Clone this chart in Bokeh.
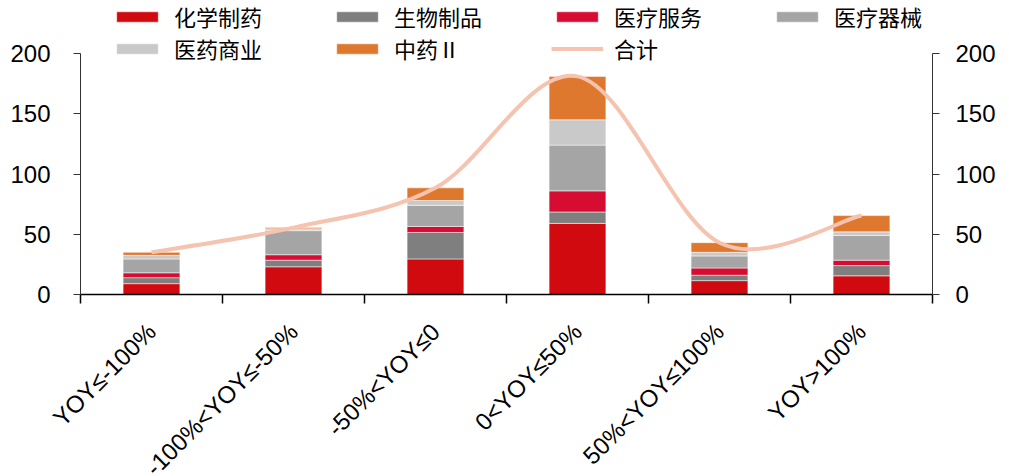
import math
from bokeh.plotting import figure
from bokeh.models import (ColumnDataSource, Range1d, LinearAxis, FixedTicker,
                          Legend, LegendItem, LabelSet)
from bokeh.core.properties import value
from bokeh.embed import file_html
from bokeh.resources import INLINE

categories = ["YOY≤-100%", "-100%<YOY≤-50%", "-50%<YOY≤0", "0<YOY≤50%", "50%<YOY≤100%", "YOY>100%"]
chem = [9, 23, 29.5, 59, 11.5, 15.5]        # 化学制药
bio = [5, 5.5, 22, 9.5, 4.5, 8.5]           # 生物制品
service = [4, 4.5, 5, 17.5, 6, 4.5]         # 医疗服务
device = [11.5, 20, 17.5, 38, 10, 20.5]     # 医疗器械
commerce = [3, 1.5, 4, 21, 3, 3]            # 医药商业
tcm = [2.5, 1, 10.5, 36, 8, 13.5]           # 中药Ⅱ
series_names = ["化学制药", "生物制品", "医疗服务", "医疗器械", "医药商业", "中药Ⅱ"]
total_name = "合计"
y_ticks = [0, 50, 100, 150, 200]

series = [chem, bio, service, device, commerce, tcm]
colors = ["#D10A10", "#7F7F7F", "#D60C32", "#A5A5A5", "#C9C9C9", "#DF782F"]
keys = ["s%d" % i for i in range(len(series))]

n = len(categories)
xs = [i + 0.5 for i in range(n)]
data = {"x": xs}
for k, s in zip(keys, series):
    data[k] = s
src = ColumnDataSource(data)

# layout: the frame covers the whole canvas; axes are pinned inside it
FW, FH = 1009, 476
PX_PER_CAT = 142.0
PX_PER_UNIT = 241 / 200.0
x_left = -80 / PX_PER_CAT
x_right = x_left + FW / PX_PER_CAT
y_top = y_ticks[-1] + 53 / PX_PER_UNIT
y_bot = y_top - FH / PX_PER_UNIT

p = figure(frame_width=FW, frame_height=FH, output_backend="svg",
           toolbar_location=None,
           x_range=Range1d(x_left, x_right), y_range=Range1d(y_bot, y_top),
           min_border_left=0, min_border_right=0, min_border_top=0,
           min_border_bottom=0)
p.outline_line_color = None
p.xgrid.visible = False
p.ygrid.visible = False
p.background_fill_color = "white"
p.border_fill_color = "white"

rs = p.vbar_stack(keys, x="x", width=0.4, color=colors, source=src,
                  line_color="white", line_alpha=0.5, line_width=1)

# smoothed total line (Excel-like Catmull-Rom bezier through totals)
totals = [sum(v) for v in zip(*series)]
pts = list(zip(xs, totals))
bz = dict(x0=[], y0=[], x1=[], y1=[], cx0=[], cy0=[], cx1=[], cy1=[])
for i in range(n - 1):
    p0 = pts[max(i - 1, 0)]
    p1 = pts[i]
    p2 = pts[i + 1]
    p3 = pts[min(i + 2, n - 1)]
    bz["x0"].append(p1[0]); bz["y0"].append(p1[1])
    bz["x1"].append(p2[0]); bz["y1"].append(p2[1])
    bz["cx0"].append(p1[0] + (p2[0] - p0[0]) / 6)
    bz["cy0"].append(p1[1] + (p2[1] - p0[1]) / 6)
    bz["cx1"].append(p2[0] - (p3[0] - p1[0]) / 6)
    bz["cy1"].append(p2[1] - (p3[1] - p1[1]) / 6)
bsrc = ColumnDataSource(bz)
line_r = p.bezier(x0="x0", y0="y0", x1="x1", y1="y1", cx0="cx0", cy0="cy0",
                  cx1="cx1", cy1="cy1", source=bsrc, line_color="#F5C3AF",
                  line_width=4)

# x axis at value 0: ticks at category boundaries, no labels
xax = p.xaxis[0]
xax.fixed_location = 0
xax.bounds = (0, n)
xax.ticker = FixedTicker(ticks=list(range(n + 1)))
xax.major_label_overrides = {i: "" for i in range(n + 1)}
xax.major_label_standoff = 0
xax.major_tick_out = 9
xax.major_tick_in = 0
xax.minor_tick_line_color = None
xax.axis_line_color = "black"
xax.axis_line_width = 1.5
xax.major_tick_line_color = "black"
xax.major_tick_line_width = 1.5

# category labels rotated
lsrc = ColumnDataSource(dict(x=xs, y=[0] * n, cat=categories))
labels = LabelSet(x="x", y="y", text="cat", source=lsrc, angle=math.pi / 4,
                  text_align="right", text_baseline="middle", y_offset=-33,
                  text_font=value("Liberation Sans"), text_font_size="24px",
                  text_color="black")
p.add_layout(labels)

def style_y(ax, standoff, loc):
    ax.fixed_location = loc
    ax.ticker = FixedTicker(ticks=y_ticks)
    ax.bounds = (y_ticks[0], y_ticks[-1])
    ax.major_tick_out = 7
    ax.major_tick_in = 0
    ax.minor_tick_line_color = None
    ax.axis_line_color = "#333333"
    ax.major_tick_line_color = "#333333"
    ax.major_label_text_font = "Liberation Sans"
    ax.major_label_text_font_size = "24px"
    ax.major_label_text_color = "black"
    ax.major_label_standoff = standoff

style_y(p.yaxis[0], 23, 0)
rax = LinearAxis()
style_y(rax, 16, n)
p.add_layout(rax, "right")

items = [LegendItem(label=nm, renderers=[r]) for nm, r in zip(series_names, rs)]
items.append(LegendItem(label=total_name, renderers=[line_r]))
legend = Legend(items=items, location=(111, FH - 64), orientation="horizontal", ncols=4,
                glyph_width=52, glyph_height=13, label_standoff=11,
                label_width=157, label_height=29, spacing=0, padding=0, margin=0,
                label_text_font="Noto Sans CJK SC", label_text_font_size="22px",
                label_text_color="black", background_fill_alpha=0,
                border_line_alpha=0)
p.add_layout(legend, "center")

open("out.html", "w").write(file_html(p, INLINE))
